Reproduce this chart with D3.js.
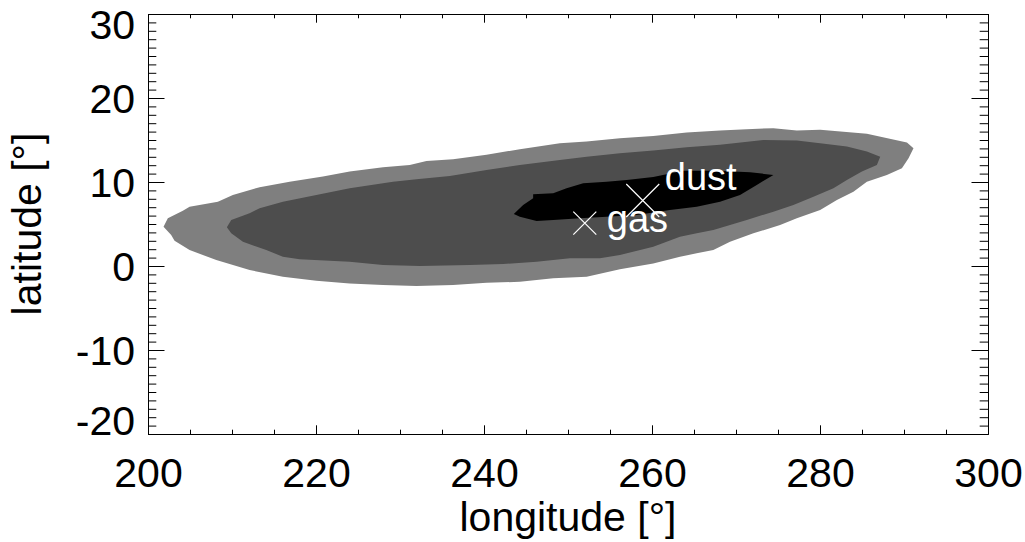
<!DOCTYPE html>
<meta charset="utf-8">
<title>Contours</title>
<style>
body {
  margin: 0;
  background: #fff;
}

svg {
  display: block;
  font-family: "Liberation Sans", Arial, Helvetica, sans-serif;
}

.axis path,
.axis line {
  stroke: #000;
  fill: none;
}

.axis text {
  font-size: 41px;
  fill: #000;
  font-family: "Liberation Sans", Arial, sans-serif;
}

.title {
  font-size: 41px;
  text-anchor: middle;
}

.marker-label {
  font-size: 38px;
  fill: #fff;
}
</style>
<body>
<svg width="1025" height="542"></svg>

<script src="https://d3js.org/d3.v7.min.js"></script>
<script>

// tick values
var lonTicks = [200, 220, 240, 260, 280, 300];
var lonMinor = d3.range(200, 301, 5);
var latTicks = [-20, -10, 0, 10, 20, 30];
var latMinor = d3.range(-20, 31, 1);

// contour levels, outermost first: [longitude, latitude]
var outerLevel = [
  [201.85, 4.68], [202.36, 5.68], [204.15, 6.59], [204.95, 7.06], [208.32, 7.66],
  [210.10, 8.46], [213.29, 9.38], [216.86, 10.04], [220.83, 10.64], [224.01, 11.24],
  [227.98, 11.76], [231.16, 12.03], [233.15, 12.51], [236.32, 12.71], [240.30, 13.23],
  [244.27, 13.91], [249.03, 14.62], [252.22, 14.81], [256.18, 15.22], [260.15, 15.49],
  [264.13, 15.88], [268.10, 16.12], [271.28, 16.29], [274.45, 16.41], [277.24, 16.12],
  [280.02, 16.21], [285.58, 15.73], [290.35, 14.69], [291.13, 14.02], [290.54, 12.83],
  [289.75, 11.64], [287.96, 10.84], [285.58, 10.04], [283.98, 8.85], [282.01, 7.86],
  [280.02, 6.67], [277.24, 5.68], [275.25, 4.88], [272.07, 3.89], [269.29, 2.89],
  [267.30, 1.90], [265.32, 1.51], [263.33, 1.10], [260.15, 0.31], [256.18, -0.40],
  [252.22, -1.28], [248.24, -1.47], [244.27, -1.88], [240.30, -2.00], [236.32, -2.27],
  [231.96, -2.39], [227.98, -2.27], [224.01, -2.07], [220.04, -1.76], [216.06, -1.28],
  [212.10, -0.48], [208.13, 0.71], [204.95, 1.90], [203.16, 3.01], [202.76, 3.69]
];

var middleLevel = [
  [209.39, 4.61], [209.91, 5.48], [212.09, 6.28], [213.29, 6.87], [216.06, 7.66],
  [220.04, 8.46], [224.01, 9.26], [229.17, 10.04], [231.96, 10.33], [235.93, 10.72],
  [240.30, 11.44], [244.27, 12.03], [249.03, 12.63], [252.22, 13.02], [256.18, 13.43],
  [260.15, 13.74], [264.13, 14.14], [268.10, 14.42], [273.26, 15.01], [277.24, 14.93],
  [280.02, 14.62], [283.20, 14.22], [285.58, 13.62], [287.17, 13.02], [286.77, 12.03],
  [284.99, 11.24], [283.20, 10.25], [281.60, 9.26], [279.22, 8.25], [276.83, 7.27],
  [274.45, 6.47], [271.28, 5.48], [269.29, 4.88], [267.30, 4.28], [265.32, 3.89],
  [263.33, 3.49], [260.15, 2.29], [256.18, 1.30], [253.80, 0.91], [250.22, 0.91],
  [246.26, 0.51], [242.28, 0.23], [238.31, 0.11], [232.35, -0.01], [227.98, 0.11],
  [224.01, 0.51], [218.05, 0.79], [216.06, 1.10], [214.08, 1.90], [211.30, 2.89],
  [209.91, 3.89]
];

var innerLevel = [
  [243.55, 6.19], [244.66, 7.27], [245.85, 8.06], [245.85, 8.54], [248.24, 8.66],
  [249.83, 9.26], [251.81, 9.85], [254.60, 10.04], [256.98, 10.25], [260.15, 10.60],
  [263.73, 11.35], [267.71, 11.35], [271.68, 11.16], [274.45, 10.84], [272.47, 9.65],
  [270.48, 8.46], [268.10, 7.66], [265.32, 7.06], [262.14, 6.67], [258.17, 6.07],
  [254.60, 5.87], [251.42, 5.68], [248.24, 5.48], [246.26, 5.36], [244.27, 5.87]
];

var levels = [outerLevel, middleLevel, innerLevel];
var levelColors = ["#7f7f7f", "#4d4d4d", "#000000"];

// peak positions
var peakNames = ["dust", "gas"];
var peakLon = [258.9, 252.0];
var peakLat = [7.8, 5.1];

var svg = d3.select("svg"),
    width = +svg.attr("width"),
    height = +svg.attr("height");

var x = d3.scaleLinear().domain([200, 300]).range([148, 988]);
var y = d3.scaleLinear().domain([-20, 30]).range([434, 14]);

var line = d3.line()
    .x(function(d) { return x(d[0]); })
    .y(function(d) { return y(d[1]); })
    .curve(d3.curveLinearClosed);

// filled contours
svg.append("g")
    .attr("class", "contours")
  .selectAll("path")
  .data(levels)
  .enter().append("path")
    .attr("d", line)
    .style("fill", function(d, i) { return levelColors[i]; })
    .style("stroke", "none");

// crosses for the peaks, dust drawn bigger than gas
var crossSize = [16.5, 11.5];
var peaks = svg.append("g").attr("class", "peaks")
  .selectAll("g")
  .data(peakNames)
  .enter().append("g")
    .attr("transform", function(d, i) {
      return "translate(" + x(peakLon[i]) + "," + y(peakLat[i]) + ")";
    });

peaks.append("path")
    .attr("d", function(d, i) {
      var s = crossSize[i];
      return "M" + -s + "," + -s + "L" + s + "," + s + "M" + -s + "," + s + "L" + s + "," + -s;
    })
    .style("stroke", "#fff")
    .style("stroke-width", 1.2)
    .style("fill", "none");

var labelOffset = [[22, -10], [22, 9]];
peaks.append("text")
    .attr("class", "marker-label")
    .attr("x", function(d, i) { return labelOffset[i][0]; })
    .attr("y", function(d, i) { return labelOffset[i][1]; })
    .text(function(d) { return d; });

// axes: IDL style box with inward ticks on all four sides
var fmt = function(d) { return String(d); };

svg.append("g")
    .attr("class", "axis")
    .attr("transform", "translate(0," + y(-20) + ")")
    .call(d3.axisBottom(x).tickValues(lonMinor).tickSize(-4.3).tickSizeOuter(0).tickFormat(""));

var xAxis = svg.append("g")
    .attr("class", "axis")
    .attr("transform", "translate(0," + y(-20) + ")")
    .call(d3.axisBottom(x).tickValues(lonTicks).tickSize(-8.7).tickSizeOuter(0).tickFormat(fmt).tickPadding(24));

svg.append("g")
    .attr("class", "axis")
    .attr("transform", "translate(0," + y(30) + ")")
    .call(d3.axisTop(x).tickValues(lonMinor).tickSize(-4.3).tickSizeOuter(0).tickFormat(""));
svg.append("g")
    .attr("class", "axis")
    .attr("transform", "translate(0," + y(30) + ")")
    .call(d3.axisTop(x).tickValues(lonTicks).tickSize(-8.7).tickSizeOuter(0).tickFormat(""));

svg.append("g")
    .attr("class", "axis")
    .attr("transform", "translate(" + x(200) + ",0)")
    .call(d3.axisLeft(y).tickValues(latMinor).tickSize(-8.3).tickSizeOuter(0).tickFormat(""));

var yAxis = svg.append("g")
    .attr("class", "axis")
    .attr("transform", "translate(" + x(200) + ",0)")
    .call(d3.axisLeft(y).tickValues(latTicks).tickSize(-16.5).tickSizeOuter(0).tickFormat(fmt).tickPadding(13));

svg.append("g")
    .attr("class", "axis")
    .attr("transform", "translate(" + x(300) + ",0)")
    .call(d3.axisRight(y).tickValues(latMinor).tickSize(-8.3).tickSizeOuter(0).tickFormat(""));
svg.append("g")
    .attr("class", "axis")
    .attr("transform", "translate(" + x(300) + ",0)")
    .call(d3.axisRight(y).tickValues(latTicks).tickSize(-16.5).tickSizeOuter(0).tickFormat(""));

// the end labels of the y axis are kept inside the box
yAxis.selectAll(".tick text")
    .attr("font-size", null)
    .attr("font-family", null)
    .attr("dy", function(d) {
      if (d === 30) return "0.59em";
      if (d === -20) return "0em";
      return "0.36em";
    });

xAxis.selectAll(".tick text")
    .attr("font-size", null)
    .attr("font-family", null);

// axis titles
svg.append("text")
    .attr("class", "title")
    .attr("x", (x(200) + x(300)) / 2)
    .attr("y", 531)
    .text("longitude [°]");

svg.append("text")
    .attr("class", "title")
    .attr("transform", "translate(41," + (y(-20) + y(30)) / 2 + ")rotate(-90)")
    .text("latitude [°]");

</script>
</body>
